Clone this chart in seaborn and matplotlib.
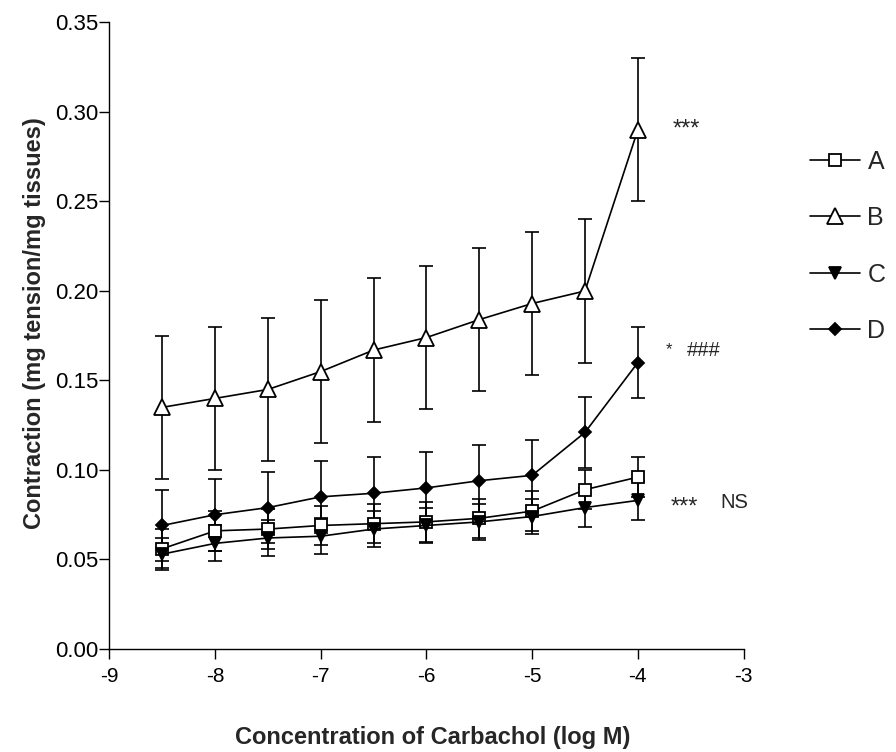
import numpy as np
import pandas as pd
import matplotlib
matplotlib.use('Agg')
import matplotlib.pyplot as plt
import seaborn as sns

# ── Data ─────────────────────────────────────────────────────────────────────
log_conc = [-8.5, -8.0, -7.5, -7.0, -6.5, -6.0, -5.5, -5.0, -4.5, -4.0]

a_mean = [0.056, 0.066, 0.067, 0.069, 0.070, 0.071, 0.073, 0.077, 0.089, 0.096]
a_sem  = [0.011, 0.011, 0.011, 0.011, 0.011, 0.011, 0.011, 0.011, 0.011, 0.011]

b_mean = [0.135, 0.140, 0.145, 0.155, 0.167, 0.174, 0.184, 0.193, 0.200, 0.290]
b_sem  = [0.040, 0.040, 0.040, 0.040, 0.040, 0.040, 0.040, 0.040, 0.040, 0.040]

c_mean = [0.053, 0.059, 0.062, 0.063, 0.067, 0.069, 0.071, 0.074, 0.079, 0.083]
c_sem  = [0.009, 0.010, 0.010, 0.010, 0.010, 0.010, 0.010, 0.010, 0.011, 0.011]

d_mean = [0.069, 0.075, 0.079, 0.085, 0.087, 0.090, 0.094, 0.097, 0.121, 0.160]
d_sem  = [0.020, 0.020, 0.020, 0.020, 0.020, 0.020, 0.020, 0.020, 0.020, 0.020]

group_labels = ['A', 'B', 'C', 'D']
x_ticks = [-9, -8, -7, -6, -5, -4, -3]
y_ticks = [0.00, 0.05, 0.10, 0.15, 0.20, 0.25, 0.30, 0.35]

# marker style per group: (marker, size, face colour)
STYLES = {
    'A': ('s', 8.5, 'white'),
    'B': ('^', 11, 'white'),
    'C': ('v', 8.5, 'black'),
    'D': ('D', 6.5, 'black'),
}

sns.set_style('ticks')
plt.rcParams['font.family'] = ['Liberation Sans', 'DejaVu Sans']

fig = plt.figure(figsize=(8.96, 7.52), dpi=100)
ax = fig.add_axes([0.1222, 0.137, 0.7076, 0.8331])

series = {
    'A': (a_mean, a_sem),
    'B': (b_mean, b_sem),
    'C': (c_mean, c_sem),
    'D': (d_mean, d_sem),
}

for name in group_labels:
    mean, sem = series[name]
    df = pd.DataFrame({'conc': log_conc, 'resp': mean})
    ax.errorbar(log_conc, mean, yerr=sem, fmt='none', ecolor='black',
                elinewidth=1.2, capsize=4.8, capthick=1.2, zorder=2)
    marker, ms, face = STYLES[name]
    sns.lineplot(data=df, x='conc', y='resp', ax=ax, color='black',
                 linewidth=1.2, marker=marker, markersize=ms,
                 markerfacecolor=face, markeredgecolor='black',
                 markeredgewidth=1.3, label=name, zorder=3)

# ── Axes ──────────────────────────────────────────────────────────────────────
ax.set_xlim(-9, -3)
ax.set_ylim(0, 0.35)
ax.set_xticks(x_ticks)
ax.set_xticklabels([str(t) for t in x_ticks])
ax.set_yticks(y_ticks)
ax.set_yticklabels([f'{t:.2f}' for t in y_ticks])
ax.tick_params(axis='both', direction='out', length=7, width=1.0,
               labelsize=15, colors='black')
ax.tick_params(axis='x', pad=6)
ax.tick_params(axis='y', pad=1, labelsize=16)
sns.despine(ax=ax)
for sp in ('left', 'bottom'):
    ax.spines[sp].set_linewidth(1.0)
    ax.spines[sp].set_color('black')

ax.set_xlabel('Concentration of Carbachol (log M)', fontsize=17, fontweight='bold')
ax.set_ylabel('Contraction (mg tension/mg tissues)', fontsize=17, fontweight='bold')
ax.xaxis.set_label_coords(0.51, -0.123)
ax.yaxis.set_label_coords(-0.10, 0.52)

# ── Significance marks ───────────────────────────────────────────────────────
ax.text(-3.67, 0.290, '***', fontsize=17, va='center', ha='left')
ax.text(-3.74, 0.167, '*', fontsize=12, va='center', ha='left')
ax.text(-3.54, 0.167, '###', fontsize=14.5, va='center', ha='left')
ax.text(-3.69, 0.079, '***', fontsize=17, va='center', ha='left')
ax.text(-3.22, 0.082, 'NS', fontsize=14.5, va='center', ha='left')

# ── Legend ────────────────────────────────────────────────────────────────────
handles, labels = ax.get_legend_handles_labels()
ax.legend(handles, labels, loc='upper left', bbox_to_anchor=(0.904, 0.801),
          bbox_transform=fig.transFigure, frameon=False, fontsize=18,
          handlelength=2.0, handletextpad=0.3, labelspacing=1.3,
          borderpad=0, borderaxespad=0)

plt.savefig('out.png', dpi=100)
